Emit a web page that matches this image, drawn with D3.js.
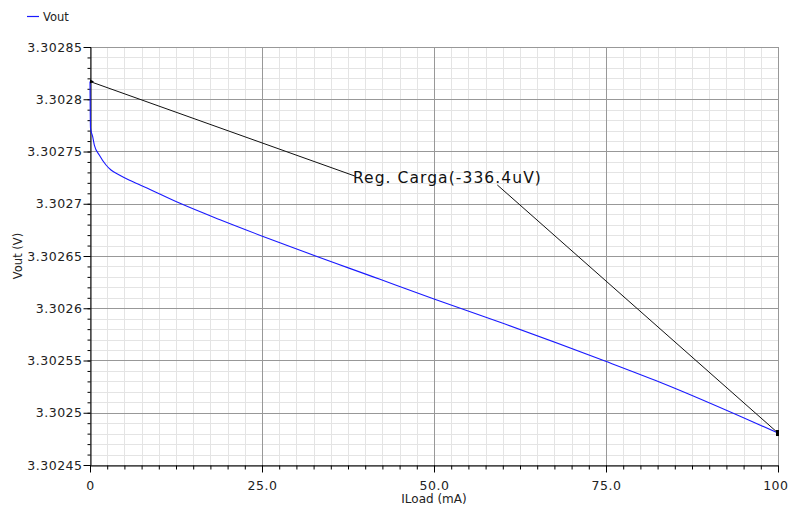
<!DOCTYPE html>
<html>
<head>
<meta charset="utf-8">
<script src="https://cdn.jsdelivr.net/npm/d3@7"></script>
<style>
  html, body { margin: 0; padding: 0; background: #fff; }
  svg { display: block; font-family: "DejaVu Sans", sans-serif; }
</style>
</head>
<body>
<svg id="chart" width="789" height="506"></svg>
<script>
// Load current (mA) and output voltage (V) samples
const iLoad = [0, 0.07, 0.39, 0.63, 1.35, 2.33, 3.05, 4.26, 5.67, 7.85, 13.08, 18.9, 24.96, 27.6, 42.15, 50, 59.6, 74.85, 82.85, 100];
const vout = [3.302817, 3.3027725, 3.3027642, 3.3027562, 3.3027467, 3.3027371, 3.3027323, 3.3027275, 3.3027227, 3.3027163,
              3.3027004, 3.3026847, 3.3026692, 3.3026626, 3.3026277, 3.3026089, 3.3025866, 3.3025495, 3.3025292, 3.3024806];

// Axis ticks and their labels
const xTicks = [0, 25, 50, 75, 100];
const xTickLabels = ["0", "25.0", "50.0", "75.0", "100"];
const yTicks = [3.30285, 3.3028, 3.30275, 3.3027, 3.30265, 3.3026, 3.30255, 3.3025, 3.30245];
const yTickLabels = ["3.30285", "3.3028", "3.30275", "3.3027", "3.30265", "3.3026", "3.30255", "3.3025", "3.30245"];

// Delta marker: text anchor points (data units) the two leader lines meet
const deltaLabel = "Reg. Carga(-336.4uV)";
const deltaAnchorIn = [38.5, 3.3027265];
const deltaAnchorOut = [59.2, 3.302718];

const svg = d3.select("#chart");
const plotL = 90, plotR = 778, plotT = 47, plotB = 465;

const x = d3.scaleLinear().domain([0, 100]).range([plotL, plotR]);
const y = d3.scaleLinear().domain([3.30245, 3.30285]).range([plotB, plotT]);

const xMinor = d3.range(0, 100.001, 2.5);
const yMinor = d3.range(0, 41).map(i => 3.30245 + i * 1e-5);

// Minor grid
const grid = svg.append("g");
grid.selectAll(".vminor").data(xMinor).join("line")
  .attr("x1", d => Math.round(x(d)) + 0.5).attr("x2", d => Math.round(x(d)) + 0.5)
  .attr("y1", plotT).attr("y2", plotB)
  .attr("stroke", "#e4e4e4").attr("stroke-width", 1);
grid.selectAll(".hminor").data(yMinor).join("line")
  .attr("y1", d => Math.round(y(d)) + 0.5).attr("y2", d => Math.round(y(d)) + 0.5)
  .attr("x1", plotL).attr("x2", plotR)
  .attr("stroke", "#e4e4e4").attr("stroke-width", 1);

// Major grid
grid.selectAll(".vmajor").data(xTicks).join("line")
  .attr("x1", d => Math.round(x(d)) + 0.5).attr("x2", d => Math.round(x(d)) + 0.5)
  .attr("y1", plotT).attr("y2", plotB)
  .attr("stroke", "#989898").attr("stroke-width", 1);
grid.selectAll(".hmajor").data(yTicks).join("line")
  .attr("y1", d => Math.round(y(d)) + 0.5).attr("y2", d => Math.round(y(d)) + 0.5)
  .attr("x1", plotL).attr("x2", plotR)
  .attr("stroke", "#989898").attr("stroke-width", 1);

// Axes
const yAxisMinor = d3.axisLeft(y).tickValues(yMinor).tickSize(3).tickFormat("");
const yAxis = d3.axisLeft(y).tickValues(yTicks).tickSize(7).tickPadding(1)
  .tickFormat((d, i) => yTickLabels[i]);
const xAxisMinor = d3.axisBottom(x).tickValues(xMinor).tickSize(4).tickFormat("");
const xAxis = d3.axisBottom(x).tickValues(xTicks).tickSize(7).tickPadding(9)
  .tickFormat((d, i) => xTickLabels[i]);

function styleAxis(g) {
  g.select(".domain").attr("stroke", "#000");
  g.selectAll(".tick line").attr("stroke", "#000");
  g.selectAll(".tick text").attr("fill", "#222").style("font-size", "12.5px").style("letter-spacing", "0.5px")
    .style("font-family", "DejaVu Sans, sans-serif");
}
svg.append("g").attr("transform", `translate(${plotL + 0.5},0)`).call(yAxisMinor).call(styleAxis);
svg.append("g").attr("transform", `translate(${plotL + 0.5},0)`).call(yAxis).call(styleAxis)
  .call(g => g.selectAll(".domain").remove());
svg.append("g").attr("transform", `translate(0,${plotB + 0.5})`).call(xAxisMinor).call(styleAxis);
svg.append("g").attr("transform", `translate(0,${plotB + 0.5})`).call(xAxis).call(styleAxis)
  .call(g => g.selectAll(".domain").remove())
  // keep the last label inside the page edge
  .call(g => g.selectAll(".tick text").filter(d => d === 100).attr("text-anchor", "end").attr("dx", 10));

// Axis titles
svg.append("text").attr("x", (plotL + plotR) / 2).attr("y", 503)
  .attr("text-anchor", "middle").attr("fill", "#222").style("font-size", "12px")
  .text("ILoad (mA)");
svg.append("text").attr("transform", `translate(22,${(plotT + plotB) / 2}) rotate(-90)`)
  .attr("text-anchor", "middle").attr("fill", "#222").style("font-size", "11.5px")
  .text("Vout (V)");

// Vout curve
const line = d3.line().x(d => x(d[0])).y(d => y(d[1])).curve(d3.curveMonotoneX);
const pts = iLoad.map((d, i) => [d, vout[i]]);
svg.append("path").datum(pts).attr("d", line)
  .attr("fill", "none").attr("stroke", "#1a1aff").attr("stroke-width", 1.1);

// Delta marker between first and last sample
const pStart = pts[0], pEnd = pts[pts.length - 1];
svg.append("line")
  .attr("x1", x(pStart[0])).attr("y1", y(pStart[1]))
  .attr("x2", x(deltaAnchorIn[0])).attr("y2", y(deltaAnchorIn[1]))
  .attr("stroke", "#111").attr("stroke-width", 1);
svg.append("line")
  .attr("x1", x(deltaAnchorOut[0])).attr("y1", y(deltaAnchorOut[1]))
  .attr("x2", x(pEnd[0])).attr("y2", y(pEnd[1]))
  .attr("stroke", "#111").attr("stroke-width", 1);
svg.append("path")
  .attr("d", `M${x(pStart[0])},${y(pStart[1]) - 2}l4,2l-4,2z`).attr("fill", "#000");
svg.append("rect")
  .attr("x", x(pEnd[0]) - 2).attr("y", y(pEnd[1]) - 3).attr("width", 3).attr("height", 6).attr("fill", "#000");
svg.append("text")
  .attr("x", x(deltaAnchorIn[0]) - 2).attr("y", y(deltaAnchorIn[1]) + 7)
  .attr("fill", "#111").style("font-size", "15.5px")
  .attr("textLength", 188).attr("lengthAdjust", "spacing")
  .text(deltaLabel);

// Legend
svg.append("line").attr("x1", 27).attr("x2", 39).attr("y1", 16.5).attr("y2", 16.5)
  .attr("stroke", "#1a1aff").attr("stroke-width", 1.2);
svg.append("text").attr("x", 43).attr("y", 20.5).attr("fill", "#222")
  .style("font-size", "11.5px").text("Vout");
</script>
</body>
</html>
